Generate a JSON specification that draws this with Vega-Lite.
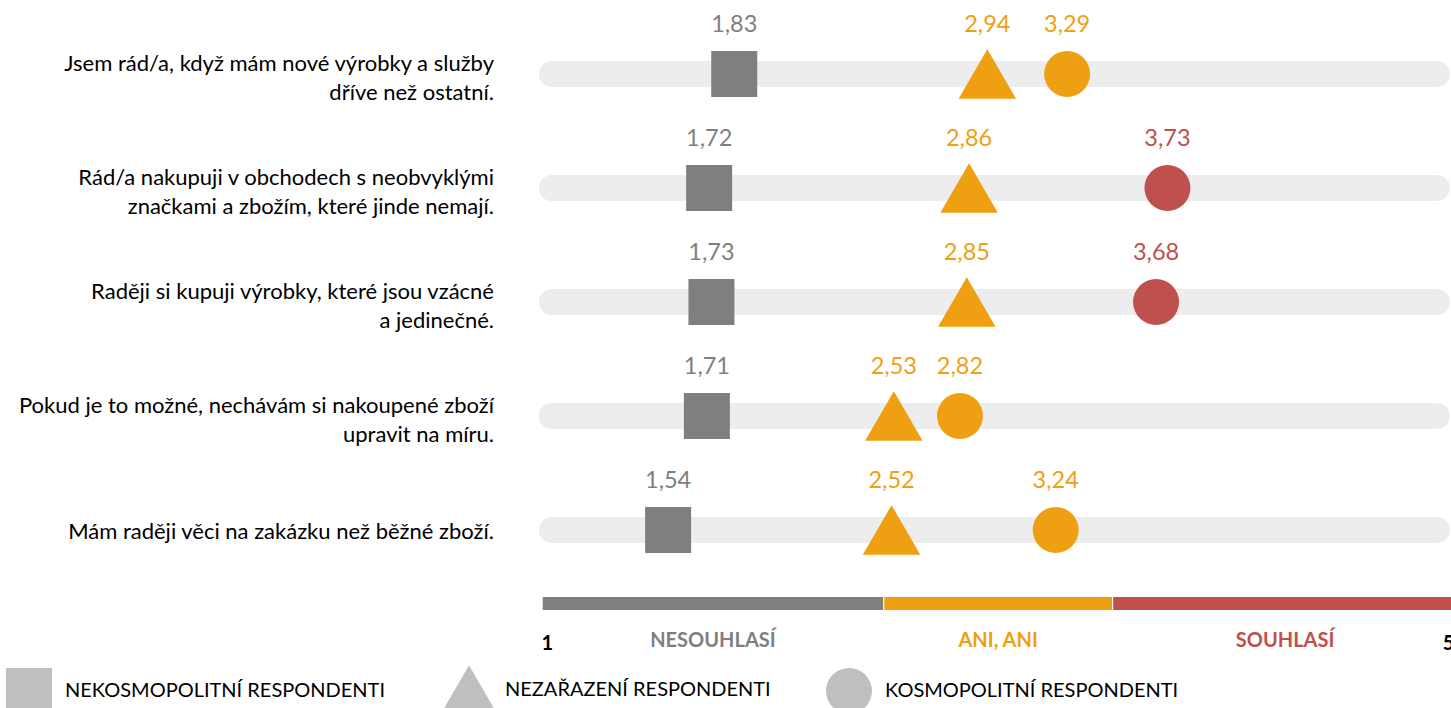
{
  "$schema": "https://vega.github.io/schema/vega-lite/v6.json",
  "width": 906,
  "height": 708,
  "autosize": "none",
  "padding": {"left": 545, "top": 0, "right": 0, "bottom": 0},
  "background": "white",
  "config": {
    "view": {"stroke": null},
    "font": "Lato",
    "locale": {"number": {"decimal": ",", "thousands": " ", "grouping": [3], "currency": ["", " Kč"]}}
  },
  "datasets": {
    "statements": [
      {"row": 1, "statement": "Jsem rád/a, když mám nové výrobky a služby\ndříve než ostatní."},
      {"row": 2, "statement": "Rád/a nakupuji v obchodech s neobvyklými\nznačkami a zbožím, které jinde nemají."},
      {"row": 3, "statement": "Raději si kupuji výrobky, které jsou vzácné\na jedinečné."},
      {"row": 4, "statement": "Pokud je to možné, nechávám si nakoupené zboží\nupravit na míru."},
      {"row": 5, "statement": "Mám raději věci na zakázku než běžné zboží."}
    ],
    "scores": [
      {"row": 1, "group": "NEKOSMOPOLITNÍ RESPONDENTI", "value": 1.83},
      {"row": 1, "group": "NEZAŘAZENÍ RESPONDENTI", "value": 2.94},
      {"row": 1, "group": "KOSMOPOLITNÍ RESPONDENTI", "value": 3.29},
      {"row": 2, "group": "NEKOSMOPOLITNÍ RESPONDENTI", "value": 1.72},
      {"row": 2, "group": "NEZAŘAZENÍ RESPONDENTI", "value": 2.86},
      {"row": 2, "group": "KOSMOPOLITNÍ RESPONDENTI", "value": 3.73},
      {"row": 3, "group": "NEKOSMOPOLITNÍ RESPONDENTI", "value": 1.73},
      {"row": 3, "group": "NEZAŘAZENÍ RESPONDENTI", "value": 2.85},
      {"row": 3, "group": "KOSMOPOLITNÍ RESPONDENTI", "value": 3.68},
      {"row": 4, "group": "NEKOSMOPOLITNÍ RESPONDENTI", "value": 1.71},
      {"row": 4, "group": "NEZAŘAZENÍ RESPONDENTI", "value": 2.53},
      {"row": 4, "group": "KOSMOPOLITNÍ RESPONDENTI", "value": 2.82},
      {"row": 5, "group": "NEKOSMOPOLITNÍ RESPONDENTI", "value": 1.54},
      {"row": 5, "group": "NEZAŘAZENÍ RESPONDENTI", "value": 2.52},
      {"row": 5, "group": "KOSMOPOLITNÍ RESPONDENTI", "value": 3.24}
    ],
    "zones": [
      {"zone": "NESOUHLASÍ", "from": 0.99, "to": 2.483},
      {"zone": "ANI, ANI", "from": 2.488, "to": 3.487},
      {"zone": "SOUHLASÍ", "from": 3.492, "to": 5}
    ],
    "ends": [
      {"label": "1", "at": 1.01},
      {"label": "5", "at": 4.963}
    ]
  },
  "layer": [
    {
      "data": {"name": "statements"},
      "mark": {"type": "rule", "color": "#ededed", "strokeWidth": 26, "strokeCap": "round"},
      "encoding": {
        "x": {"datum": 1.03, "type": "quantitative", "scale": {"domain": [1, 4.9737], "nice": false, "zero": false}, "axis": null},
        "x2": {"datum": 4.912},
        "y": {"field": "row", "type": "quantitative", "scale": {"domain": [0.3509, 6.5614], "reverse": true, "nice": false, "zero": false}, "axis": null}
      }
    },
    {
      "data": {"name": "statements"},
      "transform": [{"filter": "indexof(datum.statement, '\\n') >= 0"}],
      "mark": {"type": "text", "align": "right", "baseline": "middle", "lineBreak": "\n", "lineHeight": 29, "fontSize": 22, "color": "#000000", "dy": -10},
      "encoding": {
        "x": {"datum": 0.7763, "type": "quantitative"},
        "y": {"field": "row", "type": "quantitative"},
        "text": {"field": "statement"}
      }
    },
    {
      "data": {"name": "statements"},
      "transform": [{"filter": "indexof(datum.statement, '\\n') < 0"}],
      "mark": {"type": "text", "align": "right", "baseline": "middle", "fontSize": 22, "color": "#000000", "dy": 2},
      "encoding": {
        "x": {"datum": 0.7763, "type": "quantitative"},
        "y": {"field": "row", "type": "quantitative"},
        "text": {"field": "statement"}
      }
    },
    {
      "data": {"name": "zones"},
      "mark": {"type": "rule", "strokeWidth": 13, "strokeCap": "butt"},
      "encoding": {
        "x": {"field": "from", "type": "quantitative"},
        "x2": {"field": "to"},
        "y": {"datum": 5.645, "type": "quantitative"},
        "color": {"field": "zone", "type": "nominal", "scale": {"domain": ["NESOUHLASÍ", "ANI, ANI", "SOUHLASÍ"], "range": ["#7f7f7f", "#efa012", "#c0504d"]}, "legend": null}
      }
    },
    {
      "data": {"name": "zones"},
      "transform": [{"calculate": "(datum.from + datum.to) / 2", "as": "mid"}],
      "mark": {"type": "text", "fontWeight": "bold", "fontSize": 20, "baseline": "middle"},
      "encoding": {
        "x": {"field": "mid", "type": "quantitative"},
        "y": {"datum": 5.975, "type": "quantitative"},
        "text": {"field": "zone"},
        "color": {"field": "zone", "type": "nominal", "scale": {"domain": ["NESOUHLASÍ", "ANI, ANI", "SOUHLASÍ"], "range": ["#7f7f7f", "#efa012", "#c0504d"]}, "legend": null}
      }
    },
    {
      "data": {"name": "ends"},
      "mark": {"type": "text", "fontWeight": "bold", "fontSize": 20, "color": "#000000", "baseline": "middle"},
      "encoding": {
        "x": {"field": "at", "type": "quantitative"},
        "y": {"datum": 6.0, "type": "quantitative"},
        "text": {"field": "label"}
      }
    },
    {
      "data": {"name": "scores"},
      "mark": {"type": "point", "filled": true, "opacity": 1, "strokeWidth": 0},
      "encoding": {
        "x": {"field": "value", "type": "quantitative"},
        "y": {"field": "row", "type": "quantitative"},
        "shape": {
          "field": "group", "type": "nominal",
          "scale": {"domain": ["NEKOSMOPOLITNÍ RESPONDENTI", "NEZAŘAZENÍ RESPONDENTI", "KOSMOPOLITNÍ RESPONDENTI"], "range": ["square", "M0,-1.08L1.25,1.08L-1.25,1.08Z", "circle"]},
          "legend": {
            "orient": "none", "legendX": -539, "legendY": 667, "direction": "horizontal", "columns": 3,
            "title": null, "padding": 0, "offset": 0,
            "symbolFillColor": "#bfbfbf", "symbolStrokeWidth": 0, "symbolOpacity": 1, "symbolOffset": 0,
            "labelFont": "Lato", "labelFontSize": 20, "labelColor": "#000000", "labelLimit": 600, "labelOffset": 13, "columnPadding": 55,
            "encode": {"symbols": {"update": {"fill": {"value": "#bfbfbf"}, "stroke": {"value": "transparent"}, "opacity": {"value": 1}}}}
          }
        },
        "size": {
          "field": "group", "type": "nominal",
          "scale": {"domain": ["NEKOSMOPOLITNÍ RESPONDENTI", "NEZAŘAZENÍ RESPONDENTI", "KOSMOPOLITNÍ RESPONDENTI"], "range": [2116, 2116, 2350]}
        },
        "color": {"field": "value", "type": "quantitative", "scale": {"type": "threshold", "domain": [2.5, 3.5], "range": ["#7f7f7f", "#efa012", "#c0504d"]}, "legend": null}
      }
    },
    {
      "data": {"name": "scores"},
      "mark": {"type": "text", "fontSize": 23.5, "baseline": "middle", "dy": -49},
      "encoding": {
        "x": {"field": "value", "type": "quantitative"},
        "y": {"field": "row", "type": "quantitative"},
        "text": {"field": "value", "type": "quantitative", "format": ".2f"},
        "color": {"field": "value", "type": "quantitative", "scale": {"type": "threshold", "domain": [2.5, 3.5], "range": ["#7f7f7f", "#efa012", "#c0504d"]}, "legend": null}
      }
    }
  ],
  "resolve": {"scale": {"color": "independent"}}
}
